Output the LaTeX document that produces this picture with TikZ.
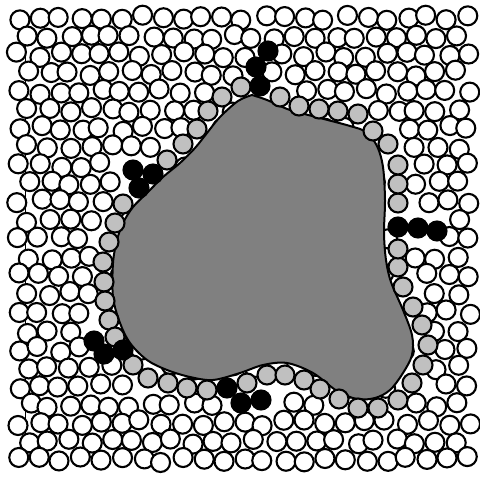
\documentclass[tikz,border=0pt]{standalone}
\definecolor{blobgray}{RGB}{128,128,128}
\definecolor{ringgray}{RGB}{192,192,192}
\newif\ifkeepdisk
\begin{document}
\begin{tikzpicture}[x=1pt,y=-1pt,
  disk/.style={draw=black,line width=2.1pt},
  whitedisk/.style={disk,fill=white},
  graydisk/.style={disk,fill=ringgray},
  blackdisk/.style={disk,fill=black},
  blob/.style={draw=black,fill=blobgray,line width=2pt,line join=round}]
\useasboundingbox (0,0) rectangle (480,478);
\def\graylist{241/87,222/97,208/111,197/129,183/144,167/160,123/204,115/223,109/242,103/262,104/282,105/301,109/320,115/337,133/365,148/378,168/383,187/388,207/390,247/383,267/375,285/375,304/380,320/389,339/399,358/408,378/408,398/400,412/383,423/365,428/345,422/325,413/307,403/287,398/267,398/249,398/203,398/184,398/165,388/144,373/131,358/114,338/111,319/109,299/106,280/97}
\def\blacklist{133/170,153/174,139/188,268/51,256/67,260/86,398/227,418/228,437/231,94/341,104/354,123/350,227/388,241/403,261/400}
\draw[line width=1.6pt] (25.5,22) -- (25.5,455);
\pgfmathsetseed{4242}
\foreach \r in {0,...,24}{
  \foreach \c in {0,...,22}{
    \pgfmathsetmacro\cx{19+\c*20.4+mod(\r,2)*10.2+3*rand}
    \pgfmathsetmacro\cy{18+\r*18.4+3*rand}
    \global\keepdisktrue
    \pgfmathtruncatemacro\outside{\cx>471}
    \ifnum\outside=1 \global\keepdiskfalse\fi
    \pgfmathtruncatemacro\inbox{and(and(\cx>75,\cx<460),and(\cy>25,\cy<435))}
    \ifnum\inbox=1
      \foreach \sx/\sy in \graylist {
        \pgfmathtruncatemacro\hit{veclen(\cx-\sx,\cy-\sy)<13}
        \ifnum\hit=1 \global\keepdiskfalse\fi
      }
      \foreach \sx/\sy in \blacklist {
        \pgfmathtruncatemacro\hit{veclen(\cx-\sx,\cy-\sy)<13}
        \ifnum\hit=1 \global\keepdiskfalse\fi
      }
    \fi
    \ifkeepdisk \path[whitedisk] (\cx,\cy) circle[radius=9.5];\fi
  }
}
\path[blob] plot[smooth, tension=0.55] coordinates {(252,95) (267,100) (290,110) (320,118) (350,126) (366,132) (377,146) (383,167) (385,200) (384,233) (386,260) (391,282) (403,310) (412,335) (412,355) (403,373) (390,390) (375,398) (357,399) (337,391) (313,373) (287,363) (263,365) (240,373) (213,380) (190,377) (167,370) (147,360) (130,343) (120,323) (113,297) (113,263) (117,240) (123,223) (133,207) (147,193) (163,177) (180,163) (195,148) (207,133) (220,117) (238,101) (252,95)} -- cycle;
\foreach \sx/\sy in \graylist { \path[graydisk] (\sx,\sy) circle[radius=9.5]; }
\foreach \sx/\sy in \blacklist { \path[blackdisk] (\sx,\sy) circle[radius=9.5]; }
\end{tikzpicture}
\end{document}
